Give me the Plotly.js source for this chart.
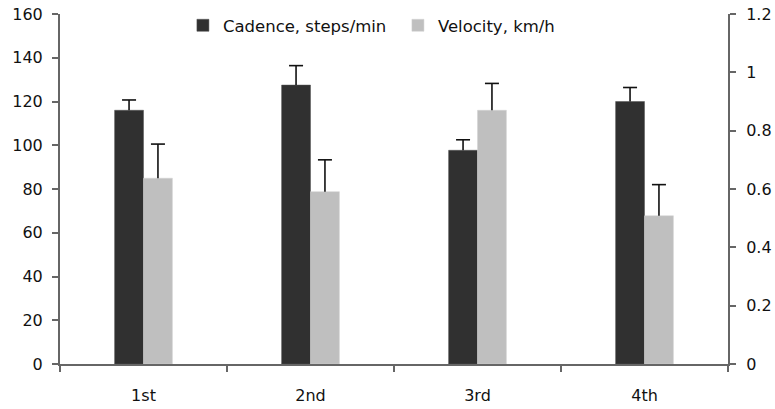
<!DOCTYPE html>
<html>
<head>
<meta charset="utf-8">
<script src="https://cdn.plot.ly/plotly-3.0.1.min.js"></script>
<style>html,body{margin:0;padding:0;background:#fff;}#chart{width:775px;height:409px;}</style>
</head>
<body>
<div id="chart"></div>
<script>
const categories = ['1st', '2nd', '3rd', '4th'];
const cadence = [116, 127.5, 97.7, 120];
const cadenceErr = [4.7, 8.9, 4.8, 6.4];
const velocity = [0.637, 0.591, 0.870, 0.508];
const velocityErr = [0.117, 0.109, 0.092, 0.107];
const leftTicks = [0, 20, 40, 60, 80, 100, 120, 140, 160];
const rightTicks = [0, 0.2, 0.4, 0.6, 0.8, 1, 1.2];

const fontFam = '"DejaVu Sans", sans-serif';
const axisColor = '#666666';
const barW = 0.173;

const idx = categories.map((c, i) => i);

const traces = [
  {
    type: 'bar', name: 'Cadence, steps/min', x: categories, y: cadence,
    xaxis: 'x', yaxis: 'y', width: barW, offset: -barW,
    marker: {color: '#303030', line: {color: '#505050', width: 0.5}},
    error_y: {type: 'data', array: cadenceErr, arrayminus: cadence.map(() => 0), symmetric: false,
              color: '#111111', thickness: 1.6, width: 0}
  },
  {
    type: 'bar', name: 'Velocity, km/h', x: categories, y: velocity,
    xaxis: 'x', yaxis: 'y2', width: barW, offset: 0,
    marker: {color: '#bfbfbf', line: {color: '#d0d0d0', width: 0.5}},
    error_y: {type: 'data', array: velocityErr, arrayminus: velocity.map(() => 0), symmetric: false,
              color: '#111111', thickness: 1.6, width: 0}
  },
  {
    type: 'scatter', mode: 'markers', showlegend: false, hoverinfo: 'skip',
    x: idx.map(i => i - barW / 2), y: cadence.map((v, i) => v + cadenceErr[i]),
    xaxis: 'x2', yaxis: 'y',
    marker: {symbol: 'line-ew', size: 10, line: {color: '#111111', width: 1.6}}
  },
  {
    type: 'scatter', mode: 'markers', showlegend: false, hoverinfo: 'skip',
    x: idx.map(i => i + barW / 2), y: velocity.map((v, i) => v + velocityErr[i]),
    xaxis: 'x2', yaxis: 'y2',
    marker: {symbol: 'line-ew', size: 10, line: {color: '#111111', width: 1.6}}
  }
];

const tickFont = {family: fontFam, size: 16, color: '#111111'};

const layout = {
  width: 775, height: 409,
  margin: {l: 60, r: 47, t: 14, b: 45, autoexpand: false},
  paper_bgcolor: '#ffffff', plot_bgcolor: '#ffffff',
  font: {family: fontFam, size: 16, color: '#111111'},
  showlegend: true,
  legend: {orientation: 'h', x: 0.184, xanchor: 'left', y: 1.017, yanchor: 'top',
           font: {family: fontFam, size: 16.5, color: '#111111'}, bgcolor: 'rgba(0,0,0,0)',
           itemwidth: 30, traceorder: 'normal', entrywidth: 170, entrywidthmode: 'pixels'},
  xaxis: {
    type: 'category', range: [-0.5, 3.5], tickson: 'boundaries',
    ticks: 'outside', ticklen: 6, tickwidth: 2, tickcolor: axisColor, ticklabelstandoff: 16,
    showline: true, linecolor: axisColor, linewidth: 2, showgrid: false, zeroline: false,
    tickfont: tickFont
  },
  xaxis2: {
    range: [-0.5, 3.5], overlaying: 'x', visible: false, showgrid: false, zeroline: false
  },
  yaxis: {
    range: [0, 160], tickvals: leftTicks, ticktext: leftTicks.map(String),
    ticks: 'outside', ticklen: 6, tickwidth: 2, tickcolor: axisColor, ticklabelstandoff: 6,
    showline: true, linecolor: axisColor, linewidth: 2, showgrid: false, zeroline: false,
    tickfont: tickFont
  },
  yaxis2: {
    range: [0, 1.2], overlaying: 'y', side: 'right', tickvals: rightTicks, ticktext: rightTicks.map(String),
    ticks: 'outside', ticklen: 6, tickwidth: 2, tickcolor: axisColor, ticklabelstandoff: 7,
    showline: true, linecolor: axisColor, linewidth: 2, showgrid: false, zeroline: false,
    tickfont: tickFont
  }
};

Plotly.newPlot('chart', traces, layout, {displayModeBar: false, staticPlot: true});
</script>
</body>
</html>
